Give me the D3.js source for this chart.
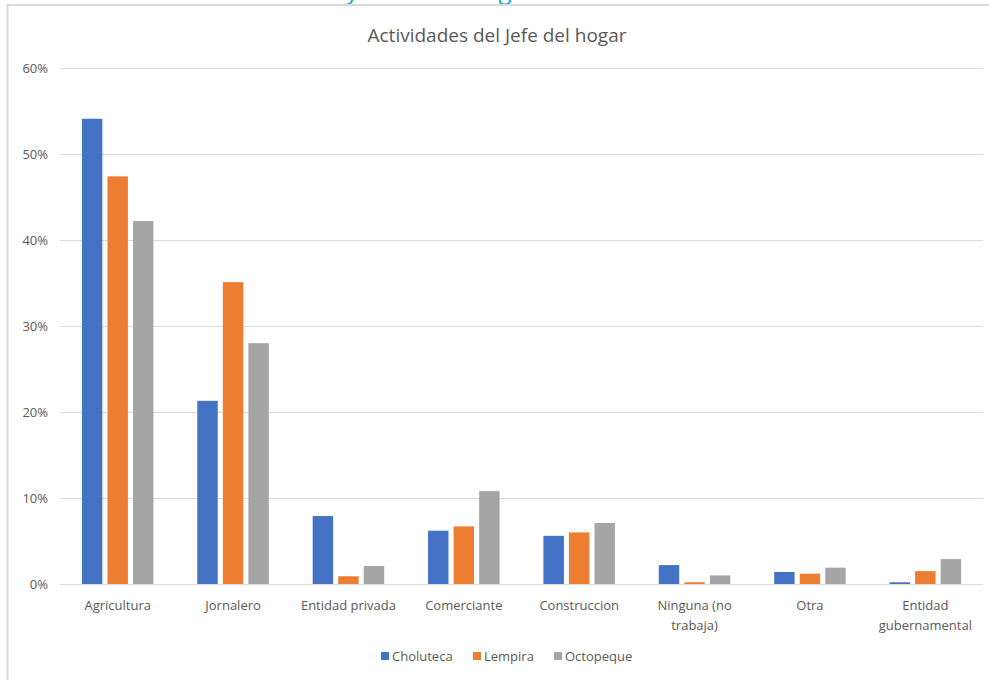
<!DOCTYPE html>
<html lang="es">
<head>
    <meta charset="utf8">
    <script type="text/javascript" src="https://d3js.org/d3.v7.min.js"></script>
    <title>Actividades del Jefe del hogar</title>
    <style>
        body { margin: 0; background: #fff; }
        text { font-family: "Open Sans", "Noto Sans", sans-serif; }
    </style>
</head>
<body>
    <div class="chart"></div>
<script type="text/javascript">
    // datos
    var categories = ["Agricultura", "Jornalero", "Entidad privada", "Comerciante", "Construccion",
                      "Ninguna (no trabaja)", "Otra", "Entidad gubernamental"];
    var series = ["Choluteca", "Lempira", "Octopeque"];
    var choluteca = [0.541, 0.213, 0.079, 0.062, 0.056, 0.022, 0.014, 0.002];
    var lempira   = [0.474, 0.351, 0.009, 0.067, 0.060, 0.002, 0.012, 0.015];
    var octopeque = [0.422, 0.280, 0.021, 0.108, 0.071, 0.010, 0.019, 0.029];
    var yTicks = [0, 0.1, 0.2, 0.3, 0.4, 0.5, 0.6];
    // etiquetas con salto de linea
    var catLines = {
        "Ninguna (no trabaja)": ["Ninguna (no", "trabaja)"],
        "Entidad gubernamental": ["Entidad", "gubernamental"]
    };
    var colors = ["#4472C4", "#ED7D31", "#A5A5A5"];
    var values = [choluteca, lempira, octopeque];

    var width = 989, height = 680;
    var pLeft = 60, pRight = 983, pTop = 68, pBottom = 584;

    var svg = d3.select("div.chart").append("svg")
        .attr("width", width)
        .attr("height", height);

    // titulo cortado arriba (solo se ven los trazos bajos)
    svg.append("text")
        .attr("x", 213).attr("y", -1)
        .attr("fill", "#1BA1E2")
        .style("font-size", "24px")
        .text("Actividades y labor del hogar");

    // borde del grafico
    svg.append("path")
        .attr("d", "M7.5,680 V5 H989")
        .attr("fill", "none")
        .attr("stroke", "#d9d9d9")
        .attr("stroke-width", 2);

    svg.append("text")
        .attr("x", 497).attr("y", 42)
        .attr("text-anchor", "middle")
        .attr("fill", "#595959")
        .style("font-size", "19px")
        .text("Actividades del Jefe del hogar");

    var y = d3.scaleLinear().domain([0, 0.6]).range([pBottom, pTop]);
    var x0 = d3.scaleBand().domain(categories).range([pLeft, pRight]).padding(0);
    var x1 = d3.scaleBand().domain(series)
        .range([x0.bandwidth() * 0.19, x0.bandwidth() * 0.81])
        .paddingInner(0.2);

    // lineas de cuadricula
    var yAxis = d3.axisLeft(y).tickValues(yTicks)
        .tickFormat(d3.format(".0%"))
        .tickSize(-(pRight - pLeft)).tickPadding(12);
    var ga = svg.append("g").attr("transform", "translate(" + pLeft + ",0)").call(yAxis);
    ga.select(".domain").remove();
    ga.selectAll(".tick line").attr("stroke", "#d9d9d9").attr("stroke-width", 1);
    ga.selectAll(".tick text").attr("fill", "#595959").style("font-size", "13px")
        .style("font-family", "'Open Sans', 'Noto Sans', sans-serif");

    // barras
    var groups = svg.append("g").selectAll("g")
        .data(categories).enter().append("g")
        .attr("transform", function(d){ return "translate(" + x0(d) + ",0)"; });
    groups.selectAll("rect")
        .data(function(d, i){ return series.map(function(s, j){ return {s: s, v: values[j][i], c: colors[j]}; }); })
        .enter().append("rect")
        .attr("x", function(d){ return x1(d.s); })
        .attr("y", function(d){ return y(d.v); })
        .attr("width", x1.bandwidth())
        .attr("height", function(d){ return pBottom - y(d.v); })
        .attr("fill", function(d){ return d.c; });

    // eje x
    svg.append("line")
        .attr("x1", pLeft).attr("x2", pRight)
        .attr("y1", pBottom + 0.5).attr("y2", pBottom + 0.5)
        .attr("stroke", "#d9d9d9");
    var labels = svg.append("g").selectAll("text")
        .data(categories).enter().append("text")
        .attr("x", function(d){ return x0(d) + x0.bandwidth() / 2; })
        .attr("y", 610)
        .attr("text-anchor", "middle")
        .attr("fill", "#595959")
        .style("font-size", "13px");
    labels.each(function(d){
        var lines = catLines[d] || [d];
        var t = d3.select(this);
        lines.forEach(function(l, k){
            t.append("tspan")
                .attr("x", x0(d) + x0.bandwidth() / 2)
                .attr("dy", k === 0 ? 0 : 20)
                .text(l);
        });
    });

    // leyenda
    var legendX = [381, 473, 554];
    var lg = svg.append("g").selectAll("g")
        .data(series).enter().append("g")
        .attr("transform", function(d, i){ return "translate(" + legendX[i] + ",652)"; });
    lg.append("rect").attr("width", 8).attr("height", 8)
        .attr("fill", function(d, i){ return colors[i]; });
    lg.append("text").attr("x", 11).attr("y", 9)
        .attr("fill", "#595959")
        .style("font-size", "13px")
        .text(function(d){ return d; });
</script>
</body>
</html>
